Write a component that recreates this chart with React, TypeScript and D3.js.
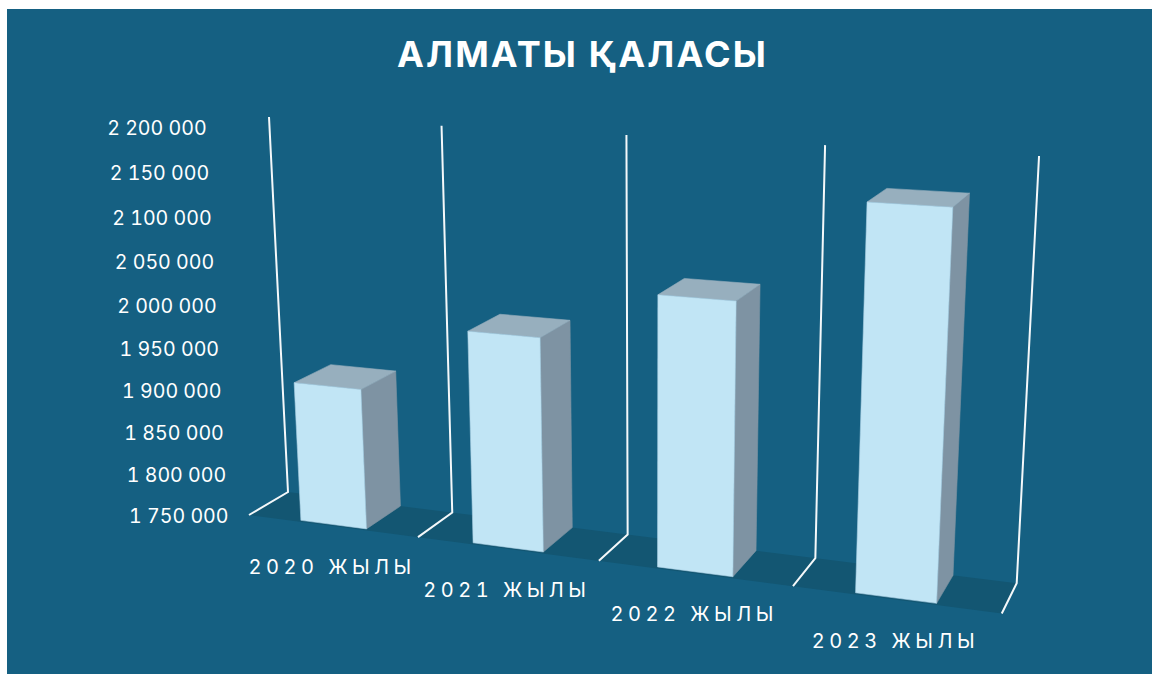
import React from "react";
import * as d3 from "d3";

const categories = ["2020 ЖЫЛЫ", "2021 ЖЫЛЫ", "2022 ЖЫЛЫ", "2023 ЖЫЛЫ"];
const values = [1914000, 1992000, 2049000, 2159000];
const tickValues = [1750000, 1800000, 1850000, 1900000, 1950000, 2000000, 2050000, 2100000, 2150000, 2200000];
const titleText = "АЛМАТЫ ҚАЛАСЫ";

// Camera calibration: screen positions of the chart box's corners, with homogeneous weights
const origin = [288, 492];
const cornerU = [1016.7, 583.3];
const cornerV = [269, 117];
const cornerD = [249, 515];
const wU = 0.873;
const wV = 0.95;
const wD = 0.9655;

const project = (u: number, v: number, d: number): [number, number] => {
  const den = 1 + u * (wU - 1) + v * (wV - 1) + d * (wD - 1);
  const c = (i: number) =>
    (origin[i] +
      u * (wU * cornerU[i] - origin[i]) +
      v * (wV * cornerV[i] - origin[i]) +
      d * (wD * cornerD[i] - origin[i])) /
    den;
  return [c(0), c(1)];
};

const yScale = d3.scaleLinear().domain([1750000, 2200000]).range([0, 1]);
const xScale = d3.scaleBand<string>().domain(categories).range([0, 1]).paddingInner(0.611).paddingOuter(0.3055).align(0.495);
const D_BACK = 0;
const D_FRONT = 0.95;

const quad = d3.line<[number, number]>().curve(d3.curveLinearClosed);
const open = d3.line<[number, number]>();
const fmt = (n: number) => d3.format(",")(n).replace(/,/g, " ");

const FONT = "Inter, 'Noto Sans', sans-serif";
const BG = "#156082";
const FLOOR = "#135672";
const FRONT = "#C1E5F5";
const TOP = "#97AFBE";
const SIDE = "#7E93A3";

export default function App() {
  const bars = categories.map((c, i) => {
    const u0 = xScale(c)!;
    const u1 = u0 + xScale.bandwidth();
    const v = yScale(values[i]);
    return {
      c,
      front: [project(u0, 0, D_FRONT), project(u1, 0, D_FRONT), project(u1, v, D_FRONT), project(u0, v, D_FRONT)] as [number, number][],
      side: [project(u1, 0, D_FRONT), project(u1, 0, D_BACK), project(u1, v, D_BACK), project(u1, v, D_FRONT)] as [number, number][],
      top: [project(u0, v, D_FRONT), project(u1, v, D_FRONT), project(u1, v, D_BACK), project(u0, v, D_BACK)] as [number, number][],
    };
  });
  const walls = d3.range(categories.length + 1).map((k) => k / categories.length);
  return (
    <svg
      width={1152}
      height={674}
      viewBox="0 0 1152 674"
      style={{ position: "absolute", left: 0, top: 0, display: "block", background: "#fff" }}
    >
      <rect x={7} y={9} width={1145} height={665} fill={BG} />
      <text
        x={582.5}
        y={67}
        textAnchor="middle"
        fill="#fff"
        fontFamily={FONT}
        fontWeight={700}
        fontSize={36}
        letterSpacing={2.15}
      >
        {titleText}
      </text>
      <path
        d={quad([project(0, 0, 1), project(1, 0, 1), project(1, 0, 0), project(0, 0, 0)])!}
        fill={FLOOR}
      />
      {walls.map((u) => (
        <path
          key={u}
          d={open([project(u, 0, 1), project(u, 0, 0), project(u, 1, 0)])!}
          fill="none"
          stroke="#F4F8FA"
          strokeWidth={2}
        />
      ))}
      {bars.map((b) => (
        <g key={b.c} strokeWidth={0.6} strokeLinejoin="round">
          <path d={quad(b.side)!} fill={SIDE} stroke={SIDE} />
          <path d={quad(b.top)!} fill={TOP} stroke={TOP} />
          <path d={quad(b.front)!} fill={FRONT} stroke="#A9CFE2" />
        </g>
      ))}
      {tickValues.map((t) => {
        const [x, y] = project(0, yScale(t), 1);
        return (
          <text
            key={t}
            x={x - 20.5}
            y={y + 8}
            textAnchor="end"
            fill="#fff"
            fontFamily={FONT}
            fontSize={19.6}
            style={{ fontVariantNumeric: "tabular-nums" }}
          >
            {fmt(t)}
          </text>
        );
      })}
      {categories.map((c) => {
        const [x, y] = project(0.125 + categories.indexOf(c) * 0.25, 0, 1);
        return (
          <text
            key={c}
            x={x}
            y={y + 48}
            textAnchor="middle"
            fill="#fff"
            fontFamily={FONT}
            fontSize={20}
            letterSpacing={4.5}
            style={{ fontVariantNumeric: "tabular-nums" }}
          >
            {c}
          </text>
        );
      })}
    </svg>
  );
}
